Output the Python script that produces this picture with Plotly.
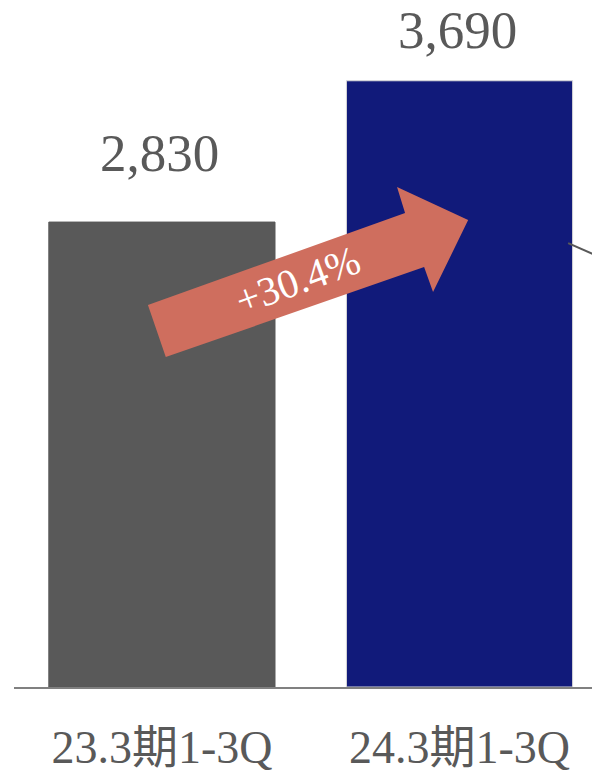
import plotly.graph_objects as go

categories = ["23.3期1-3Q", "24.3期1-3Q"]
values = [2830, 3690]
value_labels = ["2,830", "3,690"]
growth_label = "+30.4%"
bar_colors = ["#595959", "#111A7A"]

FONT = "Liberation Serif, 'Noto Sans CJK JP', serif"
xpos = list(range(len(categories)))
label_shifts = [38, 20]

fig = go.Figure()
fig.add_trace(go.Bar(
    x=xpos, y=values, width=0.76,
    marker=dict(color=bar_colors, line=dict(color=["#595959", "#d9d9d9"], width=1)),
    hoverinfo="skip",
))

for xi, v, lab, sh in zip(xpos, values, value_labels, label_shifts):
    fig.add_annotation(x=xi, y=v, text=lab, showarrow=False, yanchor="bottom",
                       yshift=sh, xshift=-2, font=dict(family=FONT, size=53, color="#595959"))

# growth arrow (data coordinates relative to bars)
pts = [(-0.047, 2325), (0.013, 2008), (0.881, 2556), (0.911, 2404),
       (1.029, 2842), (0.790, 3043), (0.817, 2885)]
path = "M " + " L ".join(f"{px},{py}" for px, py in pts) + " Z"
fig.add_shape(type="path", path=path, xref="x", yref="y",
              fillcolor="#CF6E5E", line=dict(width=0))
fig.add_annotation(x=0.455, y=2480, text=growth_label, showarrow=False,
                   textangle=-20, font=dict(family=FONT, size=41, color="white"))

# connector line going off to the right
fig.add_shape(type="line", xref="x", yref="y", x0=1.365, y0=2702, x1=1.6, y1=2515,
              line=dict(color="#595959", width=2))

fig.update_layout(
    width=592, height=766,
    margin=dict(l=6, r=0, t=0, b=87),
    paper_bgcolor="white", plot_bgcolor="white",
    showlegend=False,
    xaxis=dict(range=[-0.497, 1.472], tickvals=xpos, ticktext=categories,
               showline=True, linecolor="#808080", linewidth=1.5,
               showgrid=False, zeroline=False, ticks="", ticklabelstandoff=19,
               tickfont=dict(family=FONT, size=46, color="#595959")),
    yaxis=dict(range=[0, 4133], visible=False, showgrid=False, zeroline=False),
)

fig.write_html("out.html")
